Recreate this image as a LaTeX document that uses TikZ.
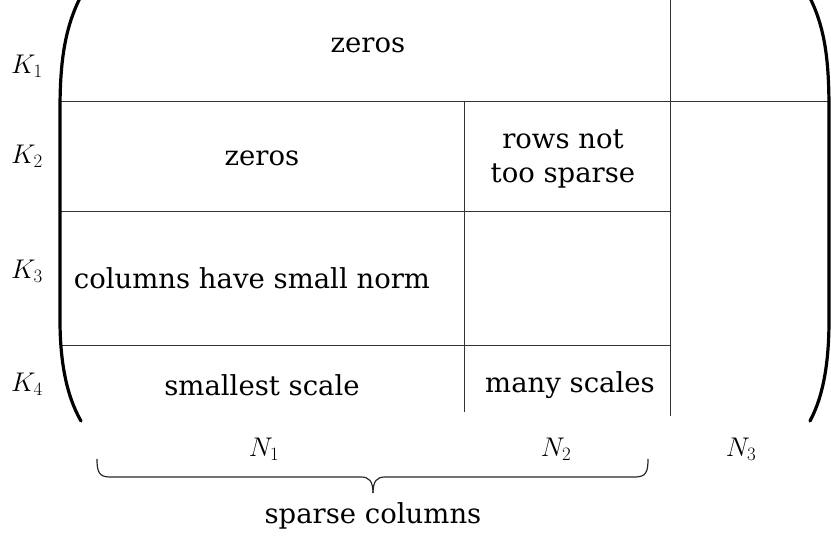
\RequirePackage{fix-cm}
\documentclass[tikz,border=0pt]{standalone}
\usepackage{fontspec}
\setmainfont{DejaVu Serif}
\begin{document}
\begin{tikzpicture}[x=1pt,y=-1pt,
  txt/.style={font=\fontsize{27.5}{34}\selectfont, align=center, inner sep=0pt},
  lab/.style={font=\fontsize{27}{32}\selectfont, inner sep=0pt},
  grid/.style={line width=0.9pt, draw=black!80},
  paren/.style={line width=3.2pt, line cap=round},
  brace/.style={line width=1.2pt, draw=black!85}]
\useasboundingbox (0,0) rectangle (831,537);
% grid coordinates
\coordinate (h1l) at (60,101);  \coordinate (h1r) at (829,101);
\coordinate (h2l) at (60,211);  \coordinate (h2r) at (670,211);
\coordinate (h3l) at (60,345);  \coordinate (h3r) at (670,345);
\coordinate (v1t) at (670,0);   \coordinate (v1b) at (670,416);
\coordinate (v2t) at (464,101); \coordinate (v2b) at (464,412);
\draw[grid] (h1l) -- (h1r);
\draw[grid] (h2l) -- (h2r);
\draw[grid] (h3l) -- (h3r);
\draw[grid] (v1t) -- (v1b);
\draw[grid] (v2t) -- (v2b);
% parentheses
\coordinate (lpt) at (80,-2); \coordinate (lpb) at (81,421);
\coordinate (rpt) at (810,-2); \coordinate (rpb) at (810,421);
\draw[paren] (lpt) .. controls (64,30) and (60,65) .. (60,110) -- (60,320)
  .. controls (60,360) and (66,395) .. (lpb);
\draw[paren] (rpt) .. controls (826,30) and (829,65) .. (829,110) -- (829,320)
  .. controls (829,360) and (824,395) .. (rpb);
% texts
\node[txt] (z1) at (368,45) {zeros};
\node[txt] (z2) at (262,158) {zeros};
\node[txt] (rn) at (563,159) {rows not\\too sparse};
\node[txt] (cn) at (252,278) {columns have small norm};
\node[txt] (ss) at (262,385) {smallest scale};
\node[txt] (ms) at (570,385) {many scales};
\node[txt] (sc) at (373,516) {sparse columns};
% labels
\node[lab] (k1) at (27,66) {$K_1$};
\node[lab] (k2) at (27,156) {$K_2$};
\node[lab] (k3) at (27,271) {$K_3$};
\node[lab] (k4) at (27,384) {$K_4$};
\node[lab] (n1) at (264,449) {$N_1$};
\node[lab] (n2) at (556,449) {$N_2$};
\node[lab] (n3) at (741,449) {$N_3$};
% brace
\coordinate (bl) at (97,459); \coordinate (br) at (648,459); \coordinate (bm) at (373,493);
\draw[brace] (bl) .. controls (97,472) and (99,477) .. (110,477) -- (361,477)
  .. controls (369,477) and (373,481) .. (bm);
\draw[brace] (br) .. controls (648,472) and (646,477) .. (635,477) -- (385,477)
  .. controls (377,477) and (373,481) .. (bm);
\end{tikzpicture}
\end{document}
